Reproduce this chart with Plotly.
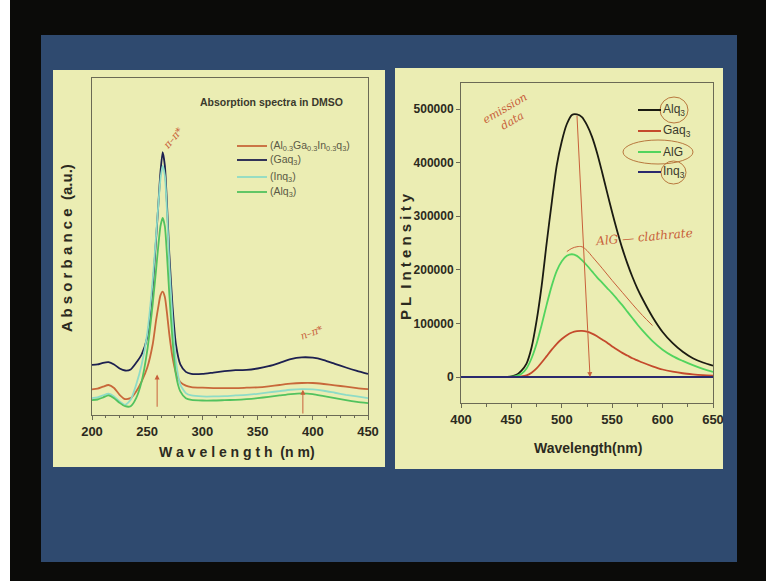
import plotly.graph_objects as go

W, H = 766, 581

# ---------------- absorption spectra (left) ----------------
abs_nm = [200, 205, 210, 215, 220, 225, 230, 235, 240, 245, 250, 255, 258, 260, 262, 264,
          266, 268, 270, 273, 276, 280, 285, 290, 300, 310, 320, 330, 340, 350, 360, 370,
          380, 390, 400, 410, 420, 430, 440, 450]
abs_mix = [0.076, 0.078, 0.084, 0.089, 0.080, 0.060, 0.047, 0.050, 0.070, 0.100, 0.140, 0.210,
           0.280, 0.320, 0.355, 0.366, 0.350, 0.300, 0.240, 0.170, 0.125, 0.098, 0.087, 0.083,
           0.081, 0.080, 0.080, 0.080, 0.081, 0.082, 0.085, 0.089, 0.093, 0.095, 0.095, 0.092,
           0.088, 0.084, 0.080, 0.077]
abs_gaq = [0.149, 0.150, 0.155, 0.157, 0.150, 0.138, 0.132, 0.135, 0.155, 0.180, 0.230, 0.380,
           0.520, 0.620, 0.720, 0.780, 0.740, 0.620, 0.480, 0.320, 0.210, 0.150, 0.128, 0.122,
           0.122, 0.126, 0.130, 0.133, 0.134, 0.138, 0.145, 0.155, 0.166, 0.171, 0.170, 0.163,
           0.152, 0.141, 0.131, 0.122]
abs_inq = [0.050, 0.052, 0.058, 0.063, 0.055, 0.040, 0.030, 0.045, 0.090, 0.150, 0.240, 0.400,
           0.530, 0.620, 0.700, 0.740, 0.710, 0.600, 0.450, 0.280, 0.160, 0.090, 0.065, 0.058,
           0.055, 0.055, 0.056, 0.058, 0.060, 0.063, 0.067, 0.071, 0.075, 0.077, 0.076, 0.072,
           0.066, 0.060, 0.055, 0.050]
abs_alq = [0.044, 0.046, 0.052, 0.058, 0.050, 0.036, 0.026, 0.026, 0.050, 0.100, 0.190, 0.330,
           0.430, 0.500, 0.560, 0.585, 0.560, 0.470, 0.360, 0.220, 0.120, 0.070, 0.050, 0.045,
           0.043, 0.043, 0.044, 0.045, 0.047, 0.050, 0.054, 0.058, 0.062, 0.064, 0.062, 0.056,
           0.050, 0.044, 0.039, 0.035]
abs_ticks = [200, 250, 300, 350, 400, 450]

# ---------------- PL emission spectra (right) ----------------
pl_nm = [400, 420, 440, 450, 455, 460, 465, 470, 475, 480, 485, 490, 495, 500, 505, 510,
         515, 520, 525, 530, 535, 540, 545, 550, 555, 560, 565, 570, 575, 580, 590, 600,
         610, 620, 630, 640, 650]
pl_alq = [0, 0, 0, 1000, 4000, 12000, 25000, 55000, 105000, 170000, 250000, 325000, 395000,
          440000, 472000, 489000, 490000, 485000, 470000, 448000, 418000, 382000, 344000,
          307000, 272000, 240000, 212000, 187000, 165000, 146000, 112000, 84000, 63000,
          47000, 35000, 27000, 21000]
pl_gaq = [0, 0, 0, 0, 500, 1000, 3000, 8000, 16000, 27000, 39000, 51000, 62000, 71000, 78000,
          83000, 85500, 86000, 84500, 81000, 76000, 70000, 64000, 57000, 51000, 45000, 40000,
          35000, 31000, 27000, 20000, 14000, 10000, 7000, 5000, 3500, 2500]
pl_alg = [0, 0, 0, 500, 2000, 6000, 16000, 35000, 62000, 97000, 135000, 170000, 198000,
          216000, 226000, 229000, 226000, 218000, 208000, 197000, 186000, 176000, 166000,
          156000, 145000, 134000, 122000, 110000, 98000, 87000, 67000, 51000, 39000, 30000,
          22000, 15000, 9500]
pl_inq = [0] * len(pl_nm)
# hand-drawn AlG clathrate trace
clath_nm = [505, 510, 515, 520, 525, 530, 540, 550, 560, 570, 580, 590]
clath_pl = [234000, 240000, 243000, 243000, 236000, 225000, 203000, 180000, 158000, 136000,
            115000, 96000]
pl_xticks = [400, 450, 500, 550, 600, 650]
pl_yticks = [0, 100000, 200000, 300000, 400000, 500000]


def px(x):
    return x / W


def py(y):
    return 1 - y / H


PANEL = "#ebedb3"
SLIDE = "#2f4a6f"
INK = "#c8603a"
FRAME = "#6b6a55"
TXT = "#2b2a20"

fig = go.Figure()

left = [("(Al<sub>0.3</sub>Ga<sub>0.3</sub>In<sub>0.3</sub>q<sub>3</sub>)", abs_mix, "#c8683a"),
        ("(Gaq<sub>3</sub>)", abs_gaq, "#1d2050"),
        ("(Inq<sub>3</sub>)", abs_inq, "#8edcc6"),
        ("(Alq<sub>3</sub>)", abs_alq, "#52c25e")]
for name, ys, col in left:
    fig.add_trace(go.Scatter(x=abs_nm, y=ys, name=name, mode="lines", showlegend=False,
                             line=dict(color=col, width=1.8, shape="spline", smoothing=0.6),
                             xaxis="x", yaxis="y"))

right = [("Alq<sub>3</sub>", pl_alq, "#1b1b12"),
         ("Gaq<sub>3</sub>", pl_gaq, "#c44a2c"),
         ("AlG", pl_alg, "#52d45e"),
         ("Inq<sub>3</sub>", pl_inq, "#2a2a6e")]
for name, ys, col in right:
    fig.add_trace(go.Scatter(x=pl_nm, y=ys, name=name, mode="lines", showlegend=False,
                             line=dict(color=col, width=1.8, shape="spline", smoothing=0.8),
                             xaxis="x2", yaxis="y2"))
fig.add_trace(go.Scatter(x=clath_nm, y=clath_pl, mode="lines", showlegend=False,
                         line=dict(color=INK, width=1, shape="spline"),
                         xaxis="x2", yaxis="y2", hoverinfo="skip"))

shapes = [
    dict(type="rect", xref="paper", yref="paper", x0=0, x1=px(10), y0=0, y1=1,
         fillcolor="white", line_width=0, layer="below"),
    dict(type="rect", xref="paper", yref="paper", x0=px(41), x1=px(737), y0=py(562), y1=py(35),
         fillcolor=SLIDE, line_width=0, layer="below"),
    dict(type="rect", xref="paper", yref="paper", x0=px(53), x1=px(385), y0=py(467), y1=py(70),
         fillcolor=PANEL, line_width=0, layer="below"),
    dict(type="rect", xref="paper", yref="paper", x0=px(395), x1=px(723), y0=py(469), y1=py(68),
         fillcolor=PANEL, line_width=0, layer="below"),
]
# circled legend entries
for x0, x1, y0, y1 in [(660, 688, 97, 123), (623, 693, 140, 164), (661, 686, 161, 184)]:
    shapes.append(dict(type="circle", xref="paper", yref="paper", x0=px(x0), x1=px(x1),
                       y0=py(y1), y1=py(y0), line=dict(color="#b8783e", width=1)))

axis_common = dict(showgrid=False, zeroline=False, showline=True, linecolor=FRAME,
                   linewidth=1, mirror=True, ticks="outside", ticklen=4, tickcolor=FRAME,
                   automargin=False)


def note(text, x, y, size, color=TXT, family="Liberation Sans", weight="normal", angle=0):
    return dict(text=text, xref="paper", yref="paper", x=px(x), y=py(y), xanchor="center",
                yanchor="middle", showarrow=False, textangle=angle,
                font=dict(family=family, size=size, color=color, weight=weight))


annotations = [
    note("Absorption spectra in DMSO", 271, 102, 10.5, "#3a392c", weight="bold"),
    note("W a v e l e n g t h  (n m)", 237, 452, 14, weight="bold"),
    note("A b s o r b a n c e  (a.u.)", 67, 248, 15, weight="bold", angle=-90),
    note("Wavelength(nm)", 588, 448, 14, family="Liberation Sans Narrow, Liberation Sans",
         weight="bold"),
    note("P L  I n t e n s i t y", 405, 257, 15, weight="bold", angle=-90),
    # hand-written notes
    dict(text="π–π*", x=273, y=0.82, xref="x", yref="y", showarrow=False, textangle=-50,
         font=dict(family="DejaVu Serif", size=10, color=INK, style="italic")),
    dict(text="n–π*", x=399, y=0.245, xref="x", yref="y", showarrow=False, textangle=-20,
         font=dict(family="DejaVu Serif", size=10, color=INK, style="italic")),
    dict(x=259, y=0.12, ax=259, ay=0.02, xref="x", yref="y", axref="x", ayref="y", text="",
         showarrow=True, arrowhead=2, arrowwidth=1, arrowcolor=INK),
    dict(x=391, y=0.075, ax=391, ay=0.0, xref="x", yref="y", axref="x", ayref="y", text="",
         showarrow=True, arrowhead=2, arrowwidth=1, arrowcolor=INK),
    dict(text="emission<br>data", x=447, y=490000, xref="x2", yref="y2", showarrow=False,
         textangle=-30, font=dict(family="DejaVu Serif", size=11, color=INK, style="italic")),
    dict(text="AlG — clathrate", x=582, y=262000, xref="x2", yref="y2", showarrow=False,
         textangle=-5, font=dict(family="DejaVu Serif", size=12, color=INK, style="italic")),
    dict(x=528, y=0, ax=515, ay=490000, xref="x2", yref="y2", axref="x2", ayref="y2",
         text="", showarrow=True, arrowhead=2, arrowwidth=1, arrowcolor=INK),
]

# legend keys: line sample + label for each series
left_rows = [146, 160, 177, 192]
for (name, _, col), yy in zip(left, left_rows):
    shapes.append(dict(type="line", xref="paper", yref="paper", x0=px(237), x1=px(267),
                       y0=py(yy), y1=py(yy), line=dict(color=col, width=1.8)))
    annotations.append(dict(text=name, xref="paper", yref="paper", x=px(268), y=py(yy),
                            xanchor="left", yanchor="middle", showarrow=False,
                            font=dict(family="Liberation Sans", size=10.5, color="#5a5945")))
right_rows = [110, 131, 152, 172]
for (name, _, col), yy in zip(right, right_rows):
    shapes.append(dict(type="line", xref="paper", yref="paper", x0=px(638), x1=px(661),
                       y0=py(yy), y1=py(yy), line=dict(color=col, width=2)))
    annotations.append(dict(text=name, xref="paper", yref="paper", x=px(661), y=py(yy),
                            xanchor="left", yanchor="middle", showarrow=False,
                            font=dict(family="Liberation Sans Narrow, Liberation Sans",
                                      size=12, color="#3a392c")))

fig.update_layout(
    width=W, height=H, margin=dict(l=0, r=0, t=0, b=0, pad=0, autoexpand=False),
    paper_bgcolor="#0b0b09", plot_bgcolor="rgba(0,0,0,0)", showlegend=False,
    shapes=shapes, annotations=annotations,
    xaxis=dict(domain=[px(92), px(368)], range=[200, 450], tickvals=abs_ticks,
               minor=dict(dtick=12.5, ticks="outside", ticklen=2, tickcolor=FRAME),
               tickfont=dict(family="Liberation Sans", size=13, color=TXT, weight="bold"),
               anchor="y", **axis_common),
    yaxis=dict(domain=[py(415), py(78)], range=[0, 1], showticklabels=False,
               anchor="x", **{**axis_common, "ticks": ""}),
    xaxis2=dict(domain=[px(461), px(713)], range=[400, 650], tickvals=pl_xticks,
                minor=dict(dtick=25, ticks="outside", ticklen=3, tickcolor=FRAME),
                tickfont=dict(family="Liberation Sans Narrow, Liberation Sans", size=13,
                              color=TXT, weight="bold"),
                anchor="y2", **axis_common),
    yaxis2=dict(domain=[py(403), py(83)], range=[-48500, 548500], tickvals=pl_yticks,
                tickformat="d",
                tickfont=dict(family="Liberation Sans Narrow, Liberation Sans", size=12,
                              color=TXT, weight="bold"),
                anchor="x2", **axis_common),
)

fig.write_html("out.html")
